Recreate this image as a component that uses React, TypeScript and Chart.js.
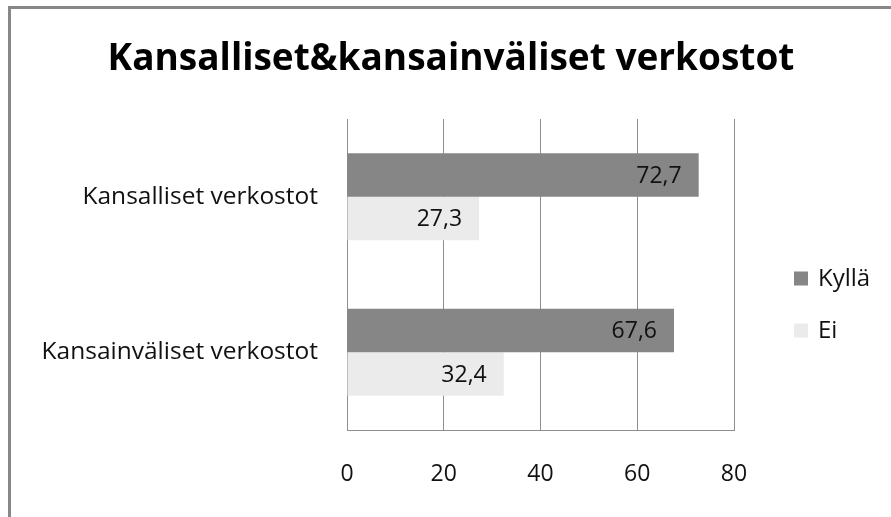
import React, { useEffect, useRef } from 'react';
import { Chart, registerables } from 'chart.js';

Chart.register(...registerables);

const title = 'Kansalliset&kansainväliset verkostot';
const categories = ['Kansalliset verkostot', 'Kansainväliset verkostot'];
const seriesNames = ['Kyllä', 'Ei'];
const kyllaValues = [72.7, 67.6];
const eiValues = [27.3, 32.4];
const xMin = 0;
const xMax = 80;
const xStep = 20;

const FONT = '"Open Sans", Lato, "Liberation Sans", sans-serif';
const GRID = '#8e8e8e';

const dataLabelPlugin = {
  id: 'dataLabels',
  afterDatasetsDraw(chart: any) {
    const ctx = chart.ctx;
    ctx.save();
    ctx.font = `23px ${FONT}`;
    ctx.fillStyle = '#111';
    ctx.textAlign = 'right';
    ctx.textBaseline = 'middle';
    chart.data.datasets.forEach((ds: any, i: number) => {
      const meta = chart.getDatasetMeta(i);
      meta.data.forEach((bar: any, j: number) => {
        const v = ds.data[j] as number;
        ctx.fillText(v.toFixed(1).replace('.', ','), bar.x - 17, bar.y + 1);
      });
    });
    ctx.restore();
  },
};

const legendPlugin = {
  id: 'sideLegend',
  afterDraw(chart: any) {
    const ctx = chart.ctx;
    const area = chart.chartArea;
    const x = area.right + 60;
    const n = chart.data.datasets.length;
    const spacing = 52;
    const mid = (area.top + area.bottom) / 2 + 30;
    ctx.save();
    ctx.font = `24px ${FONT}`;
    ctx.textAlign = 'left';
    ctx.textBaseline = 'middle';
    chart.data.datasets.forEach((ds: any, i: number) => {
      const cy = mid + (i - (n - 1) / 2) * spacing;
      ctx.fillStyle = ds.backgroundColor;
      ctx.fillRect(x, cy - 7, 14, 14);
      ctx.fillStyle = '#111';
      ctx.fillText(ds.label, x + 24, cy + 1);
    });
    ctx.restore();
  },
};

export default function App() {
  const canvasRef = useRef<HTMLCanvasElement | null>(null);

  useEffect(() => {
    if (!canvasRef.current) return;
    const chart = new Chart(canvasRef.current, {
      type: 'bar',
      data: {
        labels: categories,
        datasets: [
          {
            label: seriesNames[0],
            data: kyllaValues,
            backgroundColor: '#868686',
            borderWidth: 0,
            categoryPercentage: 0.56,
            barPercentage: 1,
          },
          {
            label: seriesNames[1],
            data: eiValues,
            backgroundColor: '#ebebeb',
            borderWidth: 0,
            categoryPercentage: 0.56,
            barPercentage: 1,
          },
        ],
      },
      options: {
        indexAxis: 'y',
        animation: false,
        responsive: true,
        maintainAspectRatio: false,
        layout: { padding: 0 },
        plugins: {
          legend: { display: false },
          tooltip: { enabled: false },
          title: {
            display: true,
            text: title,
            color: '#000',
            font: { family: FONT, size: 37, weight: 'bold' },
            padding: { top: 28, bottom: 37.6 },
          },
        },
        scales: {
          x: {
            min: xMin,
            max: xMax,
            ticks: {
              stepSize: xStep,
              color: '#111',
              font: { family: FONT, size: 23 },
              padding: 31,
            },
            grid: { color: GRID, drawTicks: false },
            border: { color: GRID },
            afterFit: (s: any) => {
              s.height = 87;
            },
          },
          y: {
            ticks: {
              color: '#111',
              font: { family: FONT, size: 24.5 },
              padding: 29,
            },
            grid: { display: false, drawTicks: false },
            border: { color: GRID },
            afterFit: (s: any) => {
              s.width = 336;
            },
          },
          legendSpace: {
            type: 'category',
            axis: 'y',
            position: 'right',
            display: true,
            ticks: { display: false },
            grid: { display: false, drawTicks: false },
            border: { display: false },
            afterFit: (s: any) => {
              s.width = 157;
            },
          },
        },
      } as any,
      plugins: [dataLabelPlugin, legendPlugin],
    });
    return () => chart.destroy();
  }, []);

  return (
    <div
      style={{
        position: 'fixed',
        left: 0,
        top: 0,
        width: 891,
        height: 517,
        overflow: 'hidden',
        background: '#fff',
      }}
    >
      <div
        style={{
          position: 'absolute',
          left: 8,
          top: 6,
          width: 883,
          height: 511,
          boxSizing: 'border-box',
          borderLeft: '3px solid #878787',
          borderTop: '3px solid #878787',
        }}
      >
        <div style={{ position: 'relative', width: 880, height: 508 }}>
          <canvas ref={canvasRef} />
        </div>
      </div>
    </div>
  );
}
